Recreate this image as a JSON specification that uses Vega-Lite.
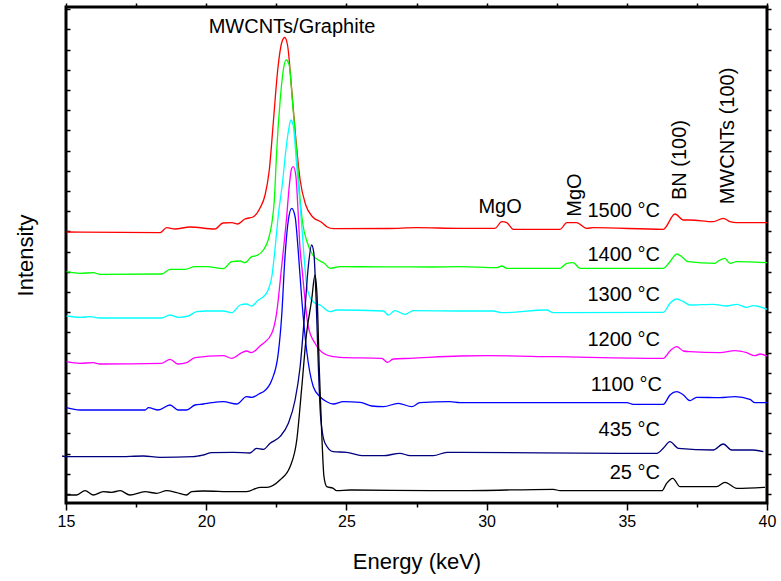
{
  "$schema": "https://vega.github.io/schema/vega-lite/v6.json",
  "width": 701,
  "height": 496,
  "autosize": {"type": "none"},
  "padding": {"left": 66, "top": 7, "right": 14, "bottom": 78},
  "background": "white",
  "datasets": {
    "curves": [
      {"s":"1500","e":15.02,"i":271},{"s":"1500","e":18.35,"i":270.3},{"s":"1500","e":18.59,"i":275.3},{"s":"1500","e":18.89,"i":274},{"s":"1500","e":19.42,"i":276},{"s":"1500","e":20.31,"i":274},{"s":"1500","e":20.6,"i":280},{"s":"1500","e":20.92,"i":280.3},{"s":"1500","e":21.13,"i":279},{"s":"1500","e":21.38,"i":284},{"s":"1500","e":21.67,"i":286},{"s":"1500","e":21.92,"i":295},{"s":"1500","e":22.1,"i":308},{"s":"1500","e":22.25,"i":333},{"s":"1500","e":22.4,"i":383},{"s":"1500","e":22.55,"i":433},{"s":"1500","e":22.7,"i":461},{"s":"1500","e":22.8,"i":465.5},{"s":"1500","e":22.9,"i":458},{"s":"1500","e":23.05,"i":413},{"s":"1500","e":23.2,"i":363},{"s":"1500","e":23.35,"i":323},{"s":"1500","e":23.55,"i":298},{"s":"1500","e":23.8,"i":286},{"s":"1500","e":24.1,"i":281},{"s":"1500","e":24.3,"i":276.3},{"s":"1500","e":24.55,"i":274.3},{"s":"1500","e":26.5,"i":274.5},{"s":"1500","e":27.5,"i":275.3},{"s":"1500","e":29.05,"i":274.7},{"s":"1500","e":30.3,"i":274.7},{"s":"1500","e":30.54,"i":281.3},{"s":"1500","e":30.72,"i":280.3},{"s":"1500","e":30.95,"i":273.7},{"s":"1500","e":32.62,"i":273.7},{"s":"1500","e":32.86,"i":280.3},{"s":"1500","e":33.21,"i":280.3},{"s":"1500","e":33.57,"i":274.7},{"s":"1500","e":33.81,"i":275.3},{"s":"1500","e":36.3,"i":273.7},{"s":"1500","e":36.72,"i":289},{"s":"1500","e":37.02,"i":283},{"s":"1500","e":37.25,"i":283},{"s":"1500","e":38.08,"i":281.3},{"s":"1500","e":38.44,"i":284.7},{"s":"1500","e":38.68,"i":281.3},{"s":"1500","e":38.92,"i":280.3},{"s":"1500","e":40,"i":280.3},

      {"s":"1400","e":15.02,"i":231.3},{"s":"1400","e":15.5,"i":229.7},{"s":"1400","e":15.97,"i":230.3},{"s":"1400","e":16.21,"i":228.7},{"s":"1400","e":18.41,"i":229},{"s":"1400","e":18.71,"i":233.7},{"s":"1400","e":19.24,"i":233.7},{"s":"1400","e":19.6,"i":236.3},{"s":"1400","e":20.02,"i":236.3},{"s":"1400","e":20.61,"i":234.3},{"s":"1400","e":20.91,"i":241.3},{"s":"1400","e":21.21,"i":242},{"s":"1400","e":21.38,"i":240.3},{"s":"1400","e":21.62,"i":246.3},{"s":"1400","e":21.8,"i":247.5},{"s":"1400","e":22.04,"i":253},{"s":"1400","e":22.21,"i":263},{"s":"1400","e":22.34,"i":279.7},{"s":"1400","e":22.43,"i":303},{"s":"1400","e":22.51,"i":350},{"s":"1400","e":22.63,"i":400},{"s":"1400","e":22.75,"i":433},{"s":"1400","e":22.85,"i":443},{"s":"1400","e":22.96,"i":438},{"s":"1400","e":23.08,"i":400},{"s":"1400","e":23.23,"i":350},{"s":"1400","e":23.35,"i":303},{"s":"1400","e":23.45,"i":278},{"s":"1400","e":23.6,"i":261},{"s":"1400","e":23.8,"i":248},{"s":"1400","e":24.0,"i":243},{"s":"1400","e":24.2,"i":240},{"s":"1400","e":24.42,"i":234.7},{"s":"1400","e":24.77,"i":236.3},{"s":"1400","e":28.0,"i":236},{"s":"1400","e":29.05,"i":236.3},{"s":"1400","e":30.36,"i":235.3},{"s":"1400","e":30.54,"i":237},{"s":"1400","e":30.72,"i":234.7},{"s":"1400","e":32.62,"i":234.7},{"s":"1400","e":32.86,"i":239.7},{"s":"1400","e":33.09,"i":240.3},{"s":"1400","e":33.33,"i":234.7},{"s":"1400","e":36.3,"i":234.7},{"s":"1400","e":36.54,"i":241.3},{"s":"1400","e":36.78,"i":249},{"s":"1400","e":36.96,"i":246.3},{"s":"1400","e":37.19,"i":241.3},{"s":"1400","e":38.15,"i":239.7},{"s":"1400","e":38.26,"i":242},{"s":"1400","e":38.5,"i":244.7},{"s":"1400","e":38.68,"i":239.7},{"s":"1400","e":38.92,"i":241.3},{"s":"1400","e":40,"i":240.3},

      {"s":"1300","e":15.02,"i":187},{"s":"1300","e":15.5,"i":185.7},{"s":"1300","e":15.86,"i":186.3},{"s":"1300","e":16.21,"i":185},{"s":"1300","e":18.41,"i":185},{"s":"1300","e":18.71,"i":188},{"s":"1300","e":19.0,"i":185.7},{"s":"1300","e":19.36,"i":187},{"s":"1300","e":19.66,"i":191.3},{"s":"1300","e":20.02,"i":192},{"s":"1300","e":20.61,"i":192},{"s":"1300","e":20.91,"i":190.3},{"s":"1300","e":21.21,"i":198},{"s":"1300","e":21.44,"i":199},{"s":"1300","e":21.62,"i":197},{"s":"1300","e":21.86,"i":203},{"s":"1300","e":22.04,"i":206.3},{"s":"1300","e":22.21,"i":213},{"s":"1300","e":22.34,"i":226.3},{"s":"1300","e":22.45,"i":253},{"s":"1300","e":22.58,"i":290},{"s":"1300","e":22.72,"i":320},{"s":"1300","e":22.85,"i":355},{"s":"1300","e":22.95,"i":375},{"s":"1300","e":23.02,"i":383},{"s":"1300","e":23.11,"i":376.3},{"s":"1300","e":23.23,"i":336.3},{"s":"1300","e":23.35,"i":298},{"s":"1300","e":23.5,"i":243},{"s":"1300","e":23.58,"i":218},{"s":"1300","e":23.7,"i":206},{"s":"1300","e":23.82,"i":201},{"s":"1300","e":24.06,"i":198},{"s":"1300","e":24.42,"i":191.3},{"s":"1300","e":24.65,"i":193},{"s":"1300","e":26.32,"i":192},{"s":"1300","e":26.49,"i":188},{"s":"1300","e":26.73,"i":192.3},{"s":"1300","e":27.09,"i":188.7},{"s":"1300","e":27.39,"i":192.3},{"s":"1300","e":29.05,"i":192},{"s":"1300","e":30.24,"i":192},{"s":"1300","e":30.54,"i":190.3},{"s":"1300","e":32.14,"i":193},{"s":"1300","e":32.38,"i":190.3},{"s":"1300","e":36.3,"i":190.7},{"s":"1300","e":36.54,"i":199.7},{"s":"1300","e":36.78,"i":204},{"s":"1300","e":37.02,"i":201.3},{"s":"1300","e":37.25,"i":198},{"s":"1300","e":38.08,"i":198.7},{"s":"1300","e":38.56,"i":197},{"s":"1300","e":38.92,"i":198.7},{"s":"1300","e":39.27,"i":195.7},{"s":"1300","e":39.51,"i":197.3},{"s":"1300","e":40,"i":193.7},

      {"s":"1200","e":15.02,"i":141.3},{"s":"1200","e":15.5,"i":139.7},{"s":"1200","e":15.97,"i":140.3},{"s":"1200","e":16.21,"i":139},{"s":"1200","e":18.41,"i":139.7},{"s":"1200","e":18.71,"i":143.7},{"s":"1200","e":19.0,"i":139},{"s":"1200","e":19.3,"i":140.3},{"s":"1200","e":19.6,"i":145.3},{"s":"1200","e":20.61,"i":147.3},{"s":"1200","e":20.91,"i":144.7},{"s":"1200","e":21.27,"i":150.3},{"s":"1200","e":21.44,"i":152},{"s":"1200","e":21.62,"i":150.3},{"s":"1200","e":21.92,"i":157},{"s":"1200","e":22.04,"i":159.7},{"s":"1200","e":22.34,"i":169.7},{"s":"1200","e":22.51,"i":189.7},{"s":"1200","e":22.69,"i":236.3},{"s":"1200","e":22.87,"i":286.3},{"s":"1200","e":22.96,"i":316.3},{"s":"1200","e":23.05,"i":334.7},{"s":"1200","e":23.11,"i":336.3},{"s":"1200","e":23.2,"i":326.3},{"s":"1200","e":23.28,"i":290},{"s":"1200","e":23.35,"i":253},{"s":"1200","e":23.41,"i":236.3},{"s":"1200","e":23.64,"i":176.3},{"s":"1200","e":23.88,"i":159.7},{"s":"1200","e":24.18,"i":149.7},{"s":"1200","e":24.53,"i":146.3},{"s":"1200","e":24.77,"i":145.7},{"s":"1200","e":26.26,"i":144.7},{"s":"1200","e":26.46,"i":140.7},{"s":"1200","e":26.67,"i":144},{"s":"1200","e":27.27,"i":144.7},{"s":"1200","e":29.05,"i":147},{"s":"1200","e":30.0,"i":147.3},{"s":"1200","e":32.38,"i":146.3},{"s":"1200","e":36.3,"i":144.7},{"s":"1200","e":36.54,"i":152},{"s":"1200","e":36.78,"i":156.3},{"s":"1200","e":37.02,"i":152},{"s":"1200","e":37.25,"i":151.3},{"s":"1200","e":38.32,"i":150.3},{"s":"1200","e":38.86,"i":152.3},{"s":"1200","e":39.27,"i":150.3},{"s":"1200","e":39.57,"i":147.3},{"s":"1200","e":39.75,"i":149},{"s":"1200","e":40,"i":147},

      {"s":"1100","e":15.02,"i":95.3},{"s":"1100","e":15.5,"i":93},{"s":"1100","e":17.82,"i":93},{"s":"1100","e":17.94,"i":95.3},{"s":"1100","e":18.29,"i":93},{"s":"1100","e":18.71,"i":98},{"s":"1100","e":19.0,"i":93},{"s":"1100","e":19.3,"i":93},{"s":"1100","e":19.6,"i":98},{"s":"1100","e":19.9,"i":99},{"s":"1100","e":20.2,"i":100.3},{"s":"1100","e":20.61,"i":101.3},{"s":"1100","e":21.09,"i":99},{"s":"1100","e":21.44,"i":106.3},{"s":"1100","e":21.62,"i":105.7},{"s":"1100","e":21.92,"i":109.7},{"s":"1100","e":22.04,"i":111.3},{"s":"1100","e":22.34,"i":123},{"s":"1100","e":22.57,"i":149.7},{"s":"1100","e":22.69,"i":186.3},{"s":"1100","e":22.81,"i":246.3},{"s":"1100","e":22.93,"i":283},{"s":"1100","e":23.05,"i":294.7},{"s":"1100","e":23.17,"i":286.3},{"s":"1100","e":23.28,"i":253},{"s":"1100","e":23.41,"i":203},{"s":"1100","e":23.58,"i":153},{"s":"1100","e":23.82,"i":116.3},{"s":"1100","e":24.06,"i":106.3},{"s":"1100","e":24.3,"i":101.3},{"s":"1100","e":24.53,"i":99},{"s":"1100","e":24.89,"i":101.3},{"s":"1100","e":25.49,"i":100.7},{"s":"1100","e":25.9,"i":97},{"s":"1100","e":26.32,"i":96.3},{"s":"1100","e":26.85,"i":99.7},{"s":"1100","e":27.33,"i":96.3},{"s":"1100","e":27.62,"i":100.3},{"s":"1100","e":28.69,"i":101.3},{"s":"1100","e":29.05,"i":100.3},{"s":"1100","e":35.0,"i":100.3},{"s":"1100","e":35.23,"i":98.7},{"s":"1100","e":36.3,"i":98.7},{"s":"1100","e":36.54,"i":108},{"s":"1100","e":36.78,"i":111.3},{"s":"1100","e":37.02,"i":108},{"s":"1100","e":37.25,"i":102.3},{"s":"1100","e":37.49,"i":105.7},{"s":"1100","e":38.32,"i":105.3},{"s":"1100","e":38.86,"i":106.3},{"s":"1100","e":39.39,"i":103.7},{"s":"1100","e":39.57,"i":100.3},{"s":"1100","e":40,"i":100.3},

      {"s":"435","e":14.86,"i":47},{"s":"435","e":15.02,"i":46.3},{"s":"435","e":16.81,"i":46.3},{"s":"435","e":17.76,"i":47},{"s":"435","e":18.35,"i":45.7},{"s":"435","e":19.54,"i":46.3},{"s":"435","e":19.9,"i":48},{"s":"435","e":20.2,"i":50.3},{"s":"435","e":20.97,"i":50.7},{"s":"435","e":21.56,"i":50},{"s":"435","e":21.8,"i":54.7},{"s":"435","e":22.04,"i":53.7},{"s":"435","e":22.28,"i":59.7},{"s":"435","e":22.63,"i":66.3},{"s":"435","e":22.93,"i":79.7},{"s":"435","e":23.17,"i":103},{"s":"435","e":23.35,"i":136.3},{"s":"435","e":23.52,"i":193},{"s":"435","e":23.64,"i":236.3},{"s":"435","e":23.76,"i":258},{"s":"435","e":23.84,"i":249.7},{"s":"435","e":23.92,"i":203},{"s":"435","e":24.0,"i":136.3},{"s":"435","e":24.08,"i":86.3},{"s":"435","e":24.24,"i":59.7},{"s":"435","e":24.53,"i":51.3},{"s":"435","e":25.01,"i":50.7},{"s":"435","e":25.55,"i":47.3},{"s":"435","e":26.32,"i":47.3},{"s":"435","e":26.91,"i":49.7},{"s":"435","e":27.27,"i":47.3},{"s":"435","e":28.1,"i":47.3},{"s":"435","e":28.58,"i":50.7},{"s":"435","e":29.05,"i":50.7},{"s":"435","e":34.76,"i":49.7},{"s":"435","e":36.07,"i":49.7},{"s":"435","e":36.3,"i":54.7},{"s":"435","e":36.54,"i":61.3},{"s":"435","e":36.84,"i":54.7},{"s":"435","e":38.08,"i":53},{"s":"435","e":38.44,"i":59},{"s":"435","e":38.74,"i":53},{"s":"435","e":39.51,"i":53},{"s":"435","e":39.87,"i":51.3},

      {"s":"25","e":15.02,"i":8},{"s":"25","e":15.38,"i":8},{"s":"25","e":15.68,"i":12.3},{"s":"25","e":15.97,"i":8},{"s":"25","e":16.33,"i":11.3},{"s":"25","e":16.63,"i":10.7},{"s":"25","e":16.93,"i":12.3},{"s":"25","e":17.28,"i":8},{"s":"25","e":17.82,"i":11.3},{"s":"25","e":18.23,"i":9.7},{"s":"25","e":18.59,"i":12.3},{"s":"25","e":18.95,"i":10.3},{"s":"25","e":19.3,"i":8},{"s":"25","e":19.48,"i":11.3},{"s":"25","e":19.9,"i":12},{"s":"25","e":20.97,"i":11.3},{"s":"25","e":21.44,"i":11.3},{"s":"25","e":21.92,"i":15.7},{"s":"25","e":22.16,"i":15.7},{"s":"25","e":22.63,"i":23},{"s":"25","e":22.99,"i":36.3},{"s":"25","e":23.23,"i":63},{"s":"25","e":23.41,"i":116.3},{"s":"25","e":23.58,"i":169.7},{"s":"25","e":23.76,"i":203},{"s":"25","e":23.88,"i":228},{"s":"25","e":23.96,"i":203},{"s":"25","e":24.03,"i":136.3},{"s":"25","e":24.12,"i":69.7},{"s":"25","e":24.2,"i":26.3},{"s":"25","e":24.3,"i":16.3},{"s":"25","e":24.53,"i":14.7},{"s":"25","e":24.65,"i":12.3},{"s":"25","e":25.13,"i":13},{"s":"25","e":28.1,"i":12.3},{"s":"25","e":29.05,"i":12.3},{"s":"25","e":32.38,"i":13.7},{"s":"25","e":32.62,"i":12.3},{"s":"25","e":36.25,"i":12.3},{"s":"25","e":36.42,"i":19.7},{"s":"25","e":36.64,"i":24.7},{"s":"25","e":36.9,"i":16.3},{"s":"25","e":38.2,"i":16.3},{"s":"25","e":38.5,"i":20.7},{"s":"25","e":38.92,"i":14.7},{"s":"25","e":39.93,"i":15.7}
    ],
    "hlabels": [
      {"t":"MWCNTs/Graphite","e":23.06,"i":476},
      {"t":"MgO","e":30.48,"i":296}
    ],
    "templabels": [
      {"t":"1500 °C","e":36.18,"i":292},
      {"t":"1400 °C","e":36.18,"i":248},
      {"t":"1300 °C","e":36.18,"i":208},
      {"t":"1200 °C","e":36.18,"i":163},
      {"t":"1100 °C","e":36.25,"i":118},
      {"t":"435 °C","e":36.18,"i":73},
      {"t":"25 °C","e":36.18,"i":30}
    ],
    "vlabels": [
      {"t":"MgO","e":33.15,"i":308},
      {"t":"BN (100)","e":36.9,"i":343},
      {"t":"MWCNTs (100)","e":38.61,"i":367}
    ]
  },
  "layer": [
    {
      "data": {"name": "curves"},
      "mark": {"type": "line", "strokeWidth": 1.3, "interpolate": "monotone"},
      "encoding": {
        "x": {"field": "e", "type": "quantitative", "scale": {"domain": [15, 40], "nice": false, "zero": false},
          "axis": {"orient": "bottom", "title": "Energy (keV)", "values": [15,17.5,20,22.5,25,27.5,30,32.5,35,37.5,40],
            "labelExpr": "datum.value % 5 === 0 ? datum.label : ''", "labelFlush": false, "labelOverlap": false,
            "tickSize": {"condition": {"test": "datum.value % 5 === 0", "value": 7}, "value": 4},
            "labelFontSize": 16, "labelPadding": 3, "titleFontSize": 22, "titlePadding": 22}},
        "y": {"field": "i", "type": "quantitative", "scale": {"domain": [0, 496], "nice": false, "zero": false},
          "axis": {"orient": "left", "title": "Intensity", "labels": false, "tickSize": -4,
            "values": [9.1,29.3,49.5,69.7,89.9,110.1,130.3,150.5,170.7,190.9,211.1,231.3,251.5,271.7,291.9,312.1,332.3,352.5,372.7,392.9,413.1,433.3,453.5,473.7,493.9],
            "titleFontSize": 22, "titlePadding": 28}},
        "color": {"field": "s", "type": "nominal", "legend": null,
          "scale": {"domain": ["1500","1400","1300","1200","1100","435","25"],
            "range": ["#ff0000","#00ff00","#00ffff","#ff00ff","#0000ff","#00007f","#000000"]}},
        "order": {"field": "e", "type": "quantitative"}
      }
    },
    {
      "data": {"name": "hlabels"},
      "mark": {"type": "text", "fontSize": 20, "font": "Liberation Sans", "align": "center", "baseline": "middle", "color": "black"},
      "encoding": {
        "x": {"field": "e", "type": "quantitative",
          "axis": {"orient": "top", "title": null, "labels": false, "tickSize": 4, "values": [15,17.5,20,22.5,25,27.5,30,32.5,35,37.5,40]}},
        "y": {"field": "i", "type": "quantitative",
          "axis": {"orient": "right", "title": null, "labels": false, "tickSize": 4,
            "values": [9.1,29.3,49.5,69.7,89.9,110.1,130.3,150.5,170.7,190.9,211.1,231.3,251.5,271.7,291.9,312.1,332.3,352.5,372.7,392.9,413.1,433.3,453.5,473.7,493.9]}},
        "text": {"field": "t"}
      }
    },
    {
      "data": {"name": "templabels"},
      "mark": {"type": "text", "fontSize": 20, "font": "Liberation Sans", "align": "right", "baseline": "middle", "color": "black"},
      "encoding": {
        "x": {"field": "e", "type": "quantitative", "axis": null},
        "y": {"field": "i", "type": "quantitative", "axis": null},
        "text": {"field": "t"}
      }
    },
    {
      "data": {"name": "vlabels"},
      "mark": {"type": "text", "fontSize": 20, "font": "Liberation Sans", "align": "center", "baseline": "middle", "angle": 270, "color": "black"},
      "encoding": {
        "x": {"field": "e", "type": "quantitative", "axis": null},
        "y": {"field": "i", "type": "quantitative", "axis": null},
        "text": {"field": "t"}
      }
    }
  ],
  "resolve": {"axis": {"x": "independent", "y": "independent"}},
  "config": {
    "view": {"stroke": "black", "strokeWidth": 3},
    "axis": {"domain": false, "grid": false, "tickColor": "black", "tickWidth": 1.5, "labelColor": "black", "titleColor": "black",
      "labelFont": "Liberation Sans", "titleFont": "Liberation Sans", "titleFontWeight": "normal"}
  }
}
